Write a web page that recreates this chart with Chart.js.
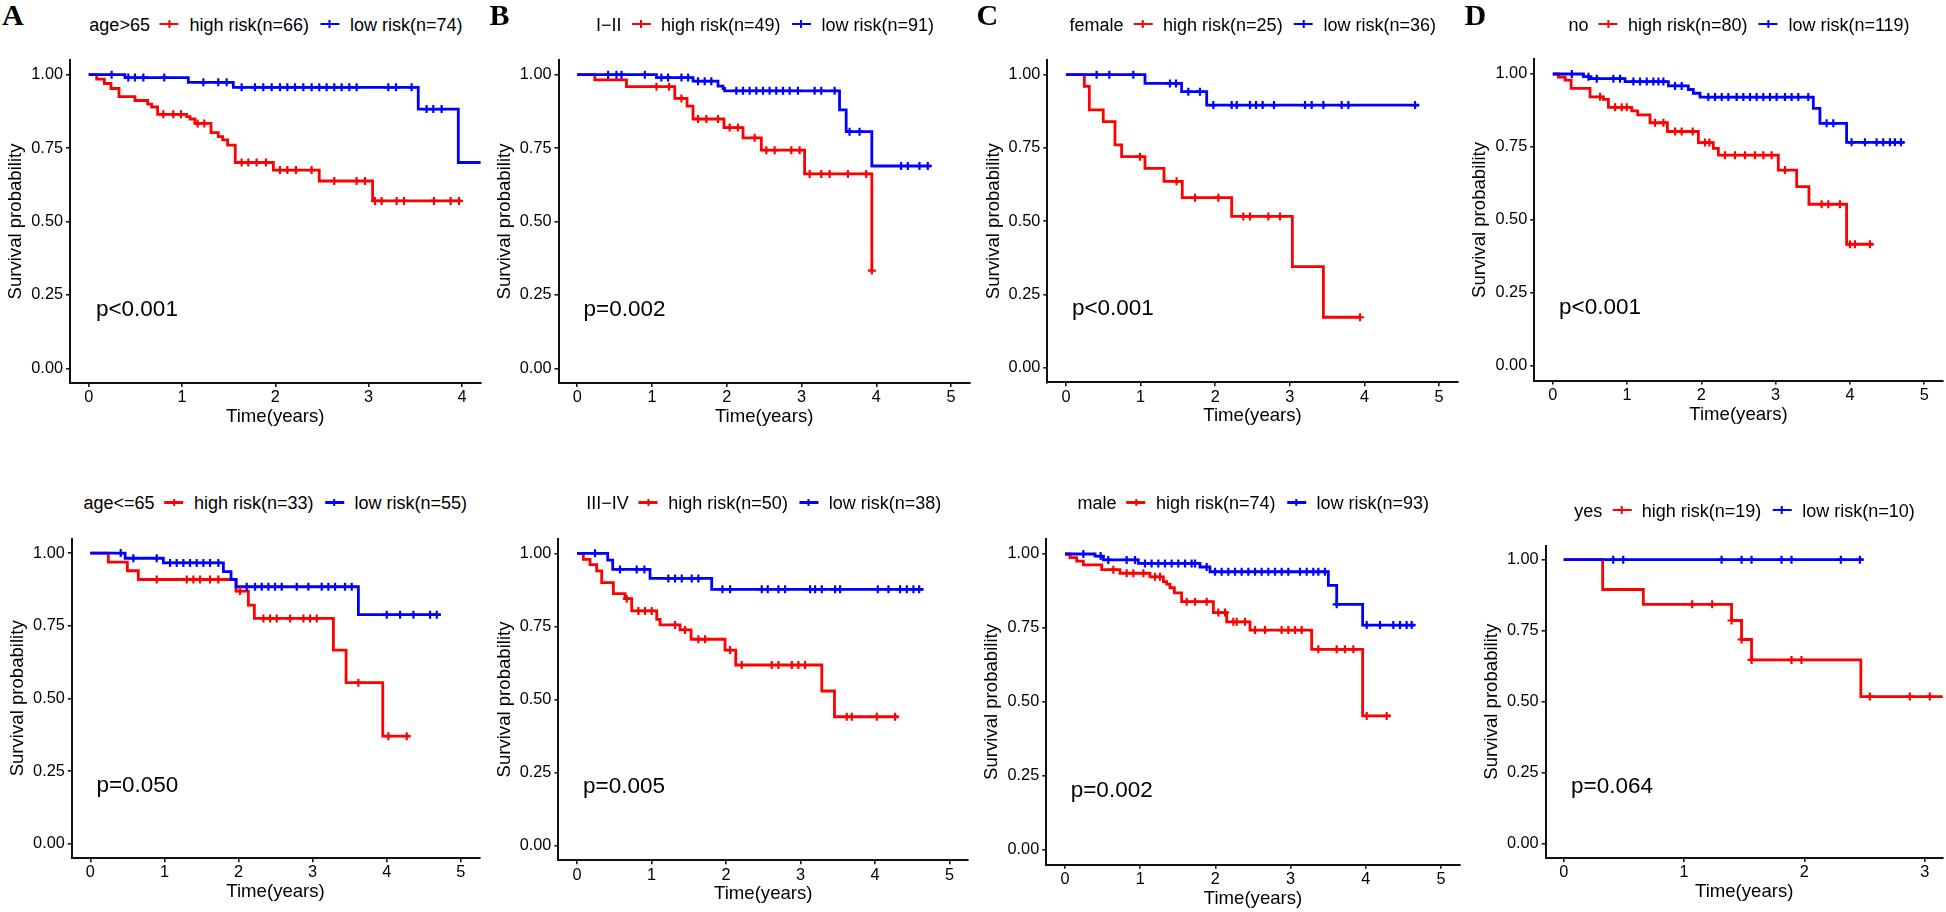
<!DOCTYPE html>
<html>
<head>
<meta charset="utf-8">
<script src="https://cdn.jsdelivr.net/npm/chart.js@4.4.1/dist/chart.umd.min.js"></script>
<style>
html,body{margin:0;padding:0;background:#fff;}
body{width:1946px;height:912px;position:relative;overflow:hidden;font-family:'Liberation Sans',Arial,Helvetica,sans-serif;}
canvas{position:absolute;}
.tag{position:absolute;top:0;font:bold 30px 'Liberation Serif','Times New Roman',serif;line-height:30px;color:#000;}
.leg{position:absolute;display:flex;align-items:flex-start;height:24px;line-height:24px;font-size:18px;color:#000;white-space:nowrap;transform:translateX(-50%);}
.leg span{display:inline-block;}
.key{position:relative;display:inline-block;width:19px;height:24px;margin:0 10.5px 0 10px;}
.key.k2{margin-left:11.4px;}
.key::before{content:'';position:absolute;left:0;right:0;top:10px;height:2.6px;background:var(--c);}
.key::after{content:'';position:absolute;left:8.5px;width:2px;top:7.5px;height:7.6px;background:var(--c);}
</style>
</head>
<body>
<script>
// ---------------- DATA ----------------
// Each curve: event times (t), survival after each event (s), censor times (c).
const panelTags   = ['A','B','C','D','','','',''];
const groupTitles = ['age>65','I\u2212II','female','no','age<=65','III\u2212IV','male','yes'];
const nHigh = [66,49,25,80,33,50,74,19];
const nLow  = [74,91,36,119,55,38,93,10];
const pValues = ['p<0.001','p=0.002','p<0.001','p<0.001','p=0.050','p=0.005','p=0.002','p=0.064'];
const pValueX = [0.078,0.085,0.08,0.085,0.082,0.08,0.076,0.061];
const pValueY = 0.2;

const yTicks = [0,0.25,0.5,0.75,1];
const yTickLabels = ['0.00','0.25','0.50','0.75','1.00'];
const xTicks4 = [0,1,2,3,4];
const xTicks5 = [0,1,2,3,4,5];
const xTicks3 = [0,1,2,3];
const xRange4 = [-0.2,4.2];
const xRange5 = [-0.25,5.25];
const xRange3 = [-0.15,3.15];
const yRange = [-0.05,1.05];

// Panel A: age>65
const A_hi_t = [0.086,0.168,0.239,0.325,0.496,0.632,0.675,0.739,1.05,1.086,1.139,1.311,1.389,1.436,1.489,1.571,1.979,2.471,3.043];
const A_hi_s = [0.985,0.970,0.953,0.925,0.912,0.900,0.890,0.865,0.857,0.849,0.834,0.803,0.789,0.778,0.760,0.701,0.675,0.638,0.570];
const A_hi_c = [0.8,0.907,0.989,1.168,1.239,1.639,1.711,1.8,1.9,2.05,2.129,2.221,2.389,2.632,2.871,2.961,3.068,3.139,3.3,3.379,3.7,3.879,3.968];
const A_lo_t = [0.389,1.068,1.55,3.532,3.961];
const A_lo_s = [0.99,0.974,0.957,0.883,0.701];
const A_lo_c = [0.246,0.425,0.496,0.586,0.81,1.229,1.389,1.479,1.639,1.782,1.871,1.961,2.05,2.129,2.211,2.3,2.389,2.471,2.55,2.632,2.711,2.793,2.871,3.211,3.293,3.461,3.621,3.693,3.782];
// Panel B: I-II
const B_hi_t = [0.236,0.659,1.305,1.469,1.549,1.963,2.217,2.462,3.041,3.94];
const B_hi_s = [0.982,0.959,0.919,0.893,0.849,0.82,0.785,0.743,0.662,0.333];
const B_hi_c = [1.06,1.229,1.394,1.616,1.727,1.883,2.039,2.15,2.373,2.529,2.64,2.863,2.974,3.108,3.264,3.375,3.62,3.865,3.94];
const B_lo_t = [1.06,1.549,1.883,1.95,1.972,3.508,3.597,3.94];
const B_lo_s = [0.99,0.978,0.961,0.953,0.945,0.88,0.806,0.689];
const B_lo_c = [0.414,0.525,0.592,0.904,1.126,1.215,1.394,1.483,1.616,1.705,1.794,2.128,2.217,2.306,2.395,2.484,2.573,2.662,2.752,2.841,2.952,3.175,3.264,3.442,3.642,3.776,4.332,4.421,4.577,4.688];
// Panel C: female
const C_hi_t = [0.246,0.313,0.5,0.657,0.746,1.059,1.314,1.559,2.221,3.034,3.45];
const C_hi_s = [0.96,0.88,0.84,0.76,0.72,0.68,0.636,0.58,0.516,0.345,0.172];
const C_hi_c = [0.992,1.483,1.729,2.042,2.377,2.466,2.712,2.869,3.941];
const C_lo_t = [1.059,1.55,1.886];
const C_lo_s = [0.97,0.942,0.896];
const C_lo_c = [0.411,0.581,0.903,1.394,1.475,1.64,1.796,1.975,2.221,2.288,2.466,2.547,2.636,2.788,3.204,3.293,3.45,3.695,3.785,4.678];
// Panel D: no
const D_hi_t = [0.076,0.166,0.247,0.502,0.682,0.749,1.063,1.143,1.309,1.543,1.96,2.161,2.229,3.036,3.283,3.448,3.955];
const D_hi_s = [0.989,0.979,0.951,0.922,0.913,0.886,0.874,0.86,0.833,0.803,0.765,0.745,0.722,0.671,0.614,0.554,0.417];
const D_hi_c = [0.637,0.839,0.928,0.996,1.377,1.489,1.646,1.735,1.883,2.049,2.108,2.318,2.453,2.587,2.722,2.834,2.946,3.126,3.619,3.709,3.865,4.0,4.067,4.269];
const D_lo_t = [0.413,0.502,0.973,1.556,1.825,1.892,1.982,3.507,3.596,3.955];
const D_lo_s = [0.991,0.984,0.974,0.959,0.947,0.934,0.921,0.882,0.831,0.766];
const D_lo_c = [0.256,0.48,0.592,0.816,0.906,1.085,1.175,1.265,1.354,1.422,1.489,1.646,1.735,2.094,2.184,2.274,2.363,2.475,2.565,2.655,2.744,2.834,2.924,3.013,3.126,3.215,3.305,3.439,3.686,3.776,4.022,4.202,4.359,4.448,4.538,4.605,4.686];
// Panel E: age<=65
const E_hi_t = [0.243,0.5,0.648,1.967,2.133,2.214,3.281,3.452,3.947];
const E_hi_s = [0.969,0.939,0.909,0.869,0.821,0.775,0.666,0.554,0.37];
const E_hi_c = [0.896,1.301,1.391,1.481,1.616,1.728,2.021,2.336,2.426,2.516,2.696,2.876,2.966,3.056,3.618,4.023,4.271];
const E_lo_t = [0.47,0.986,1.796,1.899,1.967,3.618];
const E_lo_s = [0.982,0.966,0.936,0.909,0.884,0.788];
const E_lo_c = [0.41,0.581,0.896,1.076,1.166,1.256,1.346,1.436,1.526,1.616,1.728,2.111,2.223,2.313,2.403,2.493,2.583,2.786,2.943,3.123,3.213,3.303,3.438,3.528,4.001,4.181,4.361,4.586,4.676];
// Panel F: III-IV
const F_hi_t = [0.085,0.175,0.264,0.331,0.488,0.645,0.734,1.07,1.115,1.383,1.531,1.987,2.131,3.286,3.456];
const F_hi_s = [0.979,0.961,0.94,0.9,0.862,0.845,0.803,0.774,0.755,0.738,0.706,0.669,0.618,0.529,0.441];
const F_hi_c = [0.667,0.824,0.913,1.003,1.316,1.45,1.629,1.719,2.055,2.211,2.614,2.704,2.883,2.972,3.062,3.621,3.688,4.024,4.27];
const F_lo_t = [0.412,0.479,0.98,1.808];
const F_lo_s = [0.977,0.945,0.914,0.877];
const F_lo_c = [0.242,0.577,0.801,0.904,1.226,1.316,1.406,1.54,1.629,1.952,2.055,2.48,2.56,2.704,2.793,3.129,3.196,3.286,3.465,3.532,4.038,4.181,4.337,4.427,4.516,4.593];
// Panel G: male
const G_hi_t = [0.066,0.155,0.244,0.488,0.731,1.13,1.308,1.352,1.396,1.454,1.551,1.973,2.15,2.46,3.28,3.958];
const G_hi_s = [0.988,0.976,0.963,0.947,0.935,0.923,0.907,0.898,0.886,0.869,0.839,0.802,0.771,0.743,0.678,0.453];
const G_hi_c = [0.643,0.82,0.909,1.042,1.197,1.263,1.618,1.729,1.884,2.039,2.128,2.238,2.283,2.394,2.527,2.66,2.881,2.97,3.059,3.147,3.369,3.613,3.723,3.834,4.012,4.277];
const G_lo_t = [0.399,0.51,0.975,1.795,1.928,3.502,3.613,3.958];
const G_lo_s = [0.993,0.98,0.968,0.956,0.94,0.894,0.83,0.76];
const G_lo_c = [0.244,0.474,0.576,0.82,0.931,1.064,1.152,1.241,1.33,1.418,1.507,1.596,1.684,1.729,1.884,1.995,2.083,2.172,2.261,2.349,2.438,2.527,2.615,2.704,2.793,2.881,2.97,3.125,3.214,3.302,3.369,3.457,3.613,4.012,4.189,4.366,4.455,4.543,4.61];
// Panel H: yes
const H_hi_t = [0.324,0.662,1.395,1.478,1.561,2.469];
const H_hi_s = [0.895,0.843,0.786,0.719,0.647,0.518];
const H_hi_c = [1.068,1.234,1.395,1.478,1.561,1.893,1.976,2.544,2.876,3.042];
const H_lo_t = [];
const H_lo_s = [];
const H_lo_c = [0.412,0.495,1.312,1.478,1.561,1.81,1.893,2.303,2.461];

// last follow-up time of each curve [high, low]
const followEnd = [[3.99,4.3],[3.94,4.733],[3.941,4.736],[4.314,4.731],[4.316,4.73],[4.315,4.651],[4.331,4.654],[3.3,2.488]];

// ---------------- LAYOUT ----------------
const FONT = "'Liberation Sans', Arial, Helvetica, sans-serif";
const RED = '#FF0000', BLUE = '#0000FF';
// chart-area boxes [left, right, top, bottom] in page pixels
const boxes = [
  [70, 480.6, 60, 383],
  [558.5, 970, 60, 383],
  [1047.3, 1457.7, 60, 382.3],
  [1534.2, 1942.8, 59.4, 380.6],
  [71.8, 479.3, 538.5, 858.2],
  [558.4, 968.1, 538.7, 860.3],
  [1046.2, 1460, 539.2, 864.8],
  [1545.6, 1943, 545.5, 857.9]
];
const legendCenter = [275.9, 765, 1252.8, 1739, 275.2, 763.8, 1253.3, 1744.5];
const legendTop = [12.5, 12.5, 12.5, 12.5, 491, 491, 491, 498.5];
const tagLeft = [2, 489.5, 976.5, 1464.5];
const Y_AXIS_W = 65, X_AXIS_H = 45;

const curves = [
  [A_hi_t,A_hi_s,A_hi_c,A_lo_t,A_lo_s,A_lo_c],
  [B_hi_t,B_hi_s,B_hi_c,B_lo_t,B_lo_s,B_lo_c],
  [C_hi_t,C_hi_s,C_hi_c,C_lo_t,C_lo_s,C_lo_c],
  [D_hi_t,D_hi_s,D_hi_c,D_lo_t,D_lo_s,D_lo_c],
  [E_hi_t,E_hi_s,E_hi_c,E_lo_t,E_lo_s,E_lo_c],
  [F_hi_t,F_hi_s,F_hi_c,F_lo_t,F_lo_s,F_lo_c],
  [G_hi_t,G_hi_s,G_hi_c,G_lo_t,G_lo_s,G_lo_c],
  [H_hi_t,H_hi_s,H_hi_c,H_lo_t,H_lo_s,H_lo_c]
];
const xTickSets = [xTicks4,xTicks5,xTicks5,xTicks5,xTicks5,xTicks5,xTicks5,xTicks3];
const xRanges = [xRange4,xRange5,xRange5,xRange5,xRange5,xRange5,xRange5,xRange3];

function stepPoints(t, s, end) {
  const pts = [{x:0, y:1}];
  t.forEach((ti, i) => pts.push({x:ti, y:s[i]}));
  const last = pts[pts.length - 1];
  if (end > last.x) pts.push({x:end, y:last.y});
  return pts;
}
function survAt(t, s, time) {
  let v = 1;
  for (let i = 0; i < t.length; i++) if (t[i] <= time + 1e-9) v = s[i];
  return v;
}
function censorPoints(t, s, c) { return c.map(ci => ({x:ci, y:survAt(t, s, ci)})); }

const pvalPlugin = {
  id: 'pval',
  afterDatasetsDraw(chart, args, opts) {
    const {ctx, scales} = chart;
    ctx.save();
    ctx.font = '22.5px ' + FONT;
    ctx.fillStyle = '#000';
    ctx.textAlign = 'left';
    ctx.textBaseline = 'middle';
    ctx.fillText(opts.text, scales.x.getPixelForValue(opts.x), scales.y.getPixelForValue(opts.y));
    ctx.restore();
  }
};

Chart.defaults.font.family = FONT;

for (let p = 0; p < 8; p++) {
  const [L, R, T, B] = boxes[p];
  const cl = Math.floor(L) - 90, ct = Math.floor(T) - 20;
  const cw = Math.ceil(R) - cl + 6, ch = Math.ceil(B) - ct + 60;
  const cv = document.createElement('canvas');
  cv.width = cw; cv.height = ch;
  cv.style.left = cl + 'px'; cv.style.top = ct + 'px';
  cv.style.width = cw + 'px'; cv.style.height = ch + 'px';
  document.body.appendChild(cv);

  const [ht, hs, hc, lt, ls, lc] = curves[p];
  const xt = xTickSets[p];
  const tickFont = {size: 16.3, family: FONT};
  const titleFont = {size: 18.6, family: FONT};
  const gridCfg = {display: true, drawOnChartArea: false, drawTicks: true, tickLength: 4, color: '#1a1a1a', lineWidth: 1.6};
  const borderCfg = {display: true, color: '#111', width: 2};

  new Chart(cv, {
    type: 'line',
    data: {
      datasets: [
        {data: censorPoints(lt, ls, lc), showLine: false, pointStyle: 'cross', pointRadius: 4, pointBorderWidth: 2.2, borderColor: BLUE, backgroundColor: BLUE, clip: 0},
        {data: censorPoints(ht, hs, hc), showLine: false, pointStyle: 'cross', pointRadius: 4, pointBorderWidth: 2.2, borderColor: RED, backgroundColor: RED, clip: 0},
        {data: stepPoints(lt, ls, followEnd[p][1]), stepped: true, borderColor: BLUE, borderWidth: 2.8, pointRadius: 0, fill: false, borderCapStyle: 'butt', clip: 0},
        {data: stepPoints(ht, hs, followEnd[p][0]), stepped: true, borderColor: RED, borderWidth: 2.8, pointRadius: 0, fill: false, borderCapStyle: 'butt', clip: 0}
      ]
    },
    options: {
      responsive: false,
      animation: false,
      events: [],
      parsing: true,
      layout: {padding: {left: L - cl - Y_AXIS_W, top: T - ct, right: (cl + cw) - R, bottom: (ct + ch) - B - X_AXIS_H}},
      plugins: {legend: {display: false}, tooltip: {enabled: false},
                pval: {text: pValues[p], x: pValueX[p], y: pValueY}},
      scales: {
        x: {
          type: 'linear', position: 'bottom', min: xRanges[p][0], max: xRanges[p][1],
          afterBuildTicks: s => { s.ticks = xt.map(v => ({value: v})); },
          afterFit: s => { s.height = X_AXIS_H; },
          ticks: {font: tickFont, color: '#000', padding: 1, maxRotation: 0, autoSkip: false, callback: v => String(v)},
          grid: gridCfg, border: borderCfg,
          title: {display: true, text: 'Time(years)', font: titleFont, color: '#000', padding: 0}
        },
        y: {
          type: 'linear', position: 'left', min: yRange[0], max: yRange[1],
          afterBuildTicks: s => { s.ticks = yTicks.map(v => ({value: v})); },
          afterFit: s => { s.width = Y_AXIS_W; },
          ticks: {font: tickFont, color: '#000', padding: 3, autoSkip: false, callback: v => yTickLabels[yTicks.indexOf(v)]},
          grid: gridCfg, border: borderCfg,
          title: {display: true, text: 'Survival probability', font: titleFont, color: '#000', padding: 0}
        }
      }
    },
    plugins: [pvalPlugin]
  });

  // legend (HTML)
  const leg = document.createElement('div');
  leg.className = 'leg';
  leg.style.left = legendCenter[p] + 'px';
  leg.style.top = legendTop[p] + 'px';
  const mk = (tag, cls, txt) => { const e = document.createElement(tag); if (cls) e.className = cls; if (txt) e.textContent = txt; return e; };
  leg.appendChild(mk('span', '', groupTitles[p]));
  const k1 = mk('span', 'key'); k1.style.setProperty('--c', RED); leg.appendChild(k1);
  leg.appendChild(mk('span', '', 'high risk(n=' + nHigh[p] + ')'));
  const k2 = mk('span', 'key k2'); k2.style.setProperty('--c', BLUE); leg.appendChild(k2);
  leg.appendChild(mk('span', '', 'low risk(n=' + nLow[p] + ')'));
  document.body.appendChild(leg);

  if (panelTags[p]) {
    const tg = mk('div', 'tag', panelTags[p]);
    tg.style.left = tagLeft[p] + 'px';
    document.body.appendChild(tg);
  }
}
</script>
</body>
</html>
